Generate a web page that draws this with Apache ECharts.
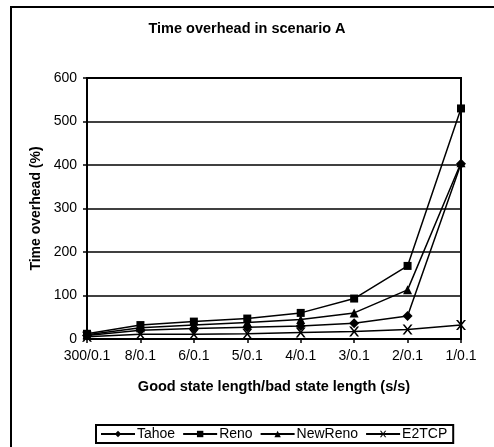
<!DOCTYPE html>
<html><head><meta charset="utf-8">
<script src="https://cdn.jsdelivr.net/npm/echarts@6/dist/echarts.min.js"></script>
<style>html,body{margin:0;padding:0;background:#fff}#c{width:494px;height:447px}</style>
</head><body><div id="c"></div>
<script>
const categories = ['300/0.1','8/0.1','6/0.1','5/0.1','4/0.1','3/0.1','2/0.1','1/0.1'];
const tahoe   = [8, 20, 24, 27, 30, 36, 53, 403];
const reno    = [12, 32, 40, 47, 60, 93, 168, 530];
const newreno = [10, 26, 32, 38, 45, 60, 113, 405];
const e2tcp   = [5, 11, 11, 12, 15, 17, 22, 32];
const yTicks = [0, 100, 200, 300, 400, 500, 600];

const F = 'Liberation Sans, Arial, sans-serif';
const X = 'path://M0,0L2,0L5,3L8,0L10,0L6,4L10,8L8,8L5,5L2,8L0,8L4,4Z';
function s(name, data, symbol, size) {
  return {name, type:'line', data, symbol, symbolSize:size, showSymbol:true,
    lineStyle:{color:'#000', width:1.5}, itemStyle:{color:'#000'}, animation:false};
}
const chart = echarts.init(document.getElementById('c'));
chart.setOption({
  backgroundColor:'#fff',
  animation:false,
  title:{text:'Time overhead in scenario A', left:'center', top:16,
    textStyle:{fontFamily:F, fontSize:14.5, fontWeight:'bold', color:'#000'}},
  grid:{left:87, right:33, top:78, bottom:108, show:true, borderColor:'#000', borderWidth:2, containLabel:false},
  xAxis:{type:'category', data:categories, boundaryGap:false,
    name:'Good state length/bad state length (s/s)', nameLocation:'middle', nameGap:40,
    nameTextStyle:{fontFamily:F, fontSize:14.5, fontWeight:'bold', color:'#000'},
    axisLine:{lineStyle:{color:'#000', width:2}},
    axisTick:{show:true, inside:false, length:4, interval:0, lineStyle:{color:'#000', width:1.5}},
    axisLabel:{fontFamily:F, fontSize:14, color:'#000', margin:10, interval:0, hideOverlap:false},
    splitLine:{show:false}},
  yAxis:{type:'value', min:yTicks[0], max:yTicks[yTicks.length-1], interval:100,
    name:'Time overhead (%)', nameLocation:'middle', nameGap:42,
    nameTextStyle:{fontFamily:F, fontSize:14, fontWeight:'bold', color:'#000'},
    axisLine:{show:true, lineStyle:{color:'#000', width:2}},
    axisTick:{show:true, length:4, lineStyle:{color:'#000', width:1.5}},
    axisLabel:{fontFamily:F, fontSize:14, color:'#000', margin:10},
    splitLine:{show:true, lineStyle:{color:'#000', width:1.5}}},
  legend:{left:96, top:425, orient:'horizontal',
    borderColor:'#000', borderWidth:2, padding:[2,6,2,4], itemGap:7,
    itemWidth:34, itemHeight:8,
    textStyle:{fontFamily:F, fontSize:14, color:'#000', padding:[0,0,0,-3]},
    data:['Tahoe','Reno','NewReno','E2TCP']},
  graphic:[{type:'rect', shape:{x:11, y:7, width:500, height:460},
    style:{fill:'none', stroke:'#000', lineWidth:2}, silent:true, z:-1}],
  series:[
    s('Tahoe', tahoe, 'diamond', 10),
    s('Reno', reno, 'rect', 8),
    s('NewReno', newreno, 'triangle', 9),
    s('E2TCP', e2tcp, X, 10)
  ]
});
</script></body></html>
